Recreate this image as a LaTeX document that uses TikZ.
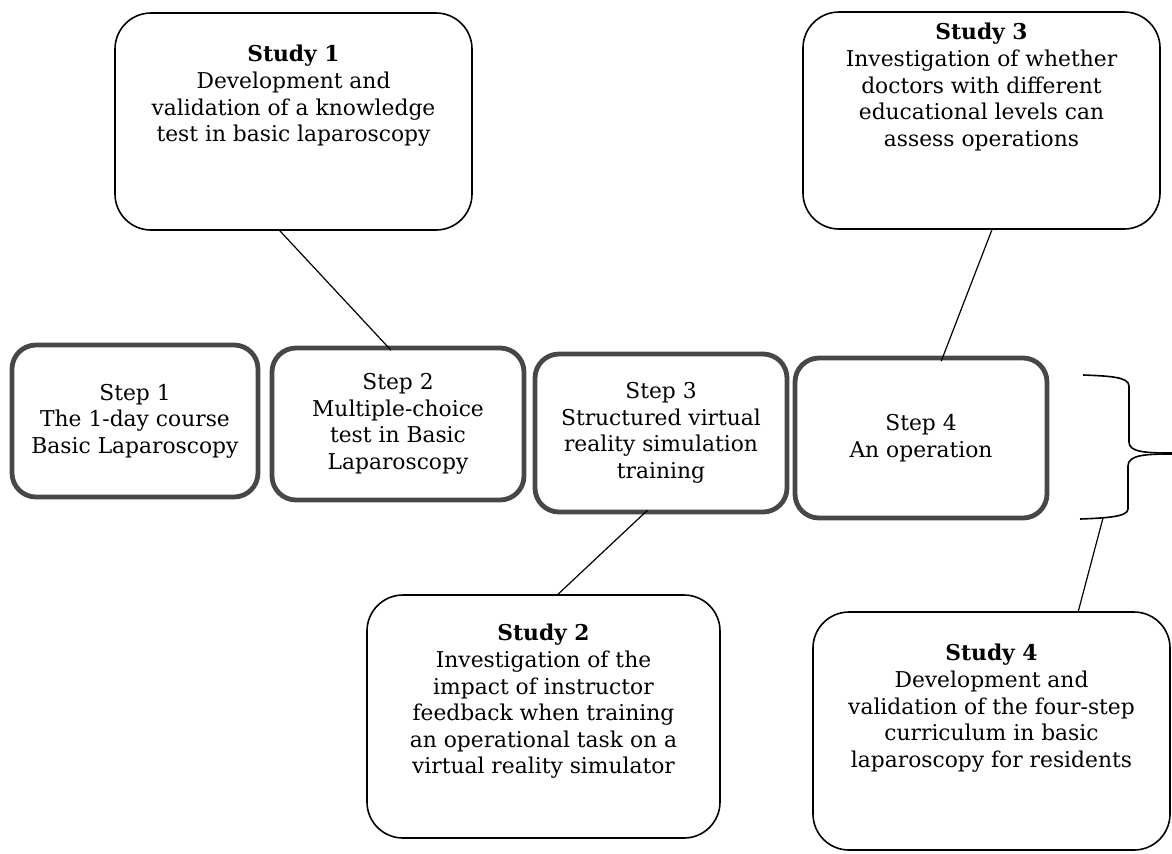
\documentclass[tikz,border=0pt]{standalone}
\usepackage{fontspec}
\setmainfont{DejaVu Serif}
\usetikzlibrary{calc}

\begin{document}
\begin{tikzpicture}[x=0.5pt,y=-0.5pt,
  txt/.style={font=\fontsize{10.9}{13.3}\selectfont},
  stepbox/.style={draw=black!72, line width=2.4pt, rounded corners=12pt,
    align=center, inner sep=0pt, txt},
  studybox/.style={draw=black, line width=0.8pt, rounded corners=18pt, inner sep=0pt},
  studytext/.style={align=center, anchor=north, inner sep=0pt, txt},
  link/.style={draw=black, line width=0.6pt},
  bracepath/.style={draw=black, line width=0.8pt}]

\useasboundingbox (0,0) rectangle (1172,853);

% the four steps of the curriculum
\node[stepbox, minimum width=123pt, minimum height=76pt] (st1) at (135,421)
  {Step 1\\The 1-day course\\Basic Laparoscopy};
\node[stepbox, minimum width=126pt, minimum height=76pt] (st2) at (398,424)
  {Step 2\\Multiple-choice\\test in Basic\\Laparoscopy};
\node[stepbox, minimum width=126pt, minimum height=79pt] (st3) at (661,433)
  {Step 3\\Structured virtual\\reality simulation\\training};
\node[stepbox, minimum width=126pt, minimum height=80pt] (st4) at (921,438)
  {Step 4\\An operation};

% the four studies
\node[studybox, minimum width=178.5pt, minimum height=108.5pt] (s1) at (293.5,121.5) {};
\node[studytext] (s1t) at (293.5,45)
  {\textbf{Study 1}\\Development and\\validation of a knowledge\\test in basic laparoscopy};

\node[studybox, minimum width=178.5pt, minimum height=108.5pt] (s3) at (981.5,120.5) {};
\node[studytext] (s3t) at (981.5,23)
  {\textbf{Study 3}\\Investigation of whether\\doctors with different\\educational levels can\\assess operations};

\node[studybox, minimum width=176.5pt, minimum height=121.5pt] (s2) at (543.5,716.5) {};
\node[studytext] (s2t) at (543.5,624)
  {\textbf{Study 2}\\Investigation of the\\impact of instructor\\feedback when training\\an operational task on a\\virtual reality simulator};

\node[studybox, minimum width=178.5pt, minimum height=119pt] (s4) at (991.5,731) {};
\node[studytext] (s4t) at (991.5,644)
  {\textbf{Study 4}\\Development and\\validation of the four-step\\curriculum in basic\\laparoscopy for residents};

% brace spanning the whole curriculum
\coordinate (brfoot) at (1103,518);
\draw[bracepath] (1083,375) .. controls (1110,376) and (1129,377) .. (1129,386)
  -- (1129,442) .. controls (1129,452) and (1145,453) .. (1172,453);
\draw[bracepath] (1172,454) .. controls (1145,454) and (1128,455) .. (1128,466)
  -- (1128,509) .. controls (1128,517) and (1105,518) .. (1080,519);

% connectors between studies and steps
\draw[link, shorten >=-3pt] ($(s1.south west)!0.462!(s1.south east)$)
  -- ($(st2.north west)!0.456!(st2.north east)$);
\draw[link, shorten >=-3pt] ($(s3.south west)!0.529!(s3.south east)$)
  -- ($(st4.north west)!0.587!(st4.north east)$);
\draw[link, shorten >=-3pt] ($(s2.north west)!0.541!(s2.north east)$)
  -- ($(st3.south west)!0.43!(st3.south east)$);
\draw[link] (brfoot) -- ($(s4.north west)!0.742!(s4.north east)$);

\end{tikzpicture}
\end{document}
